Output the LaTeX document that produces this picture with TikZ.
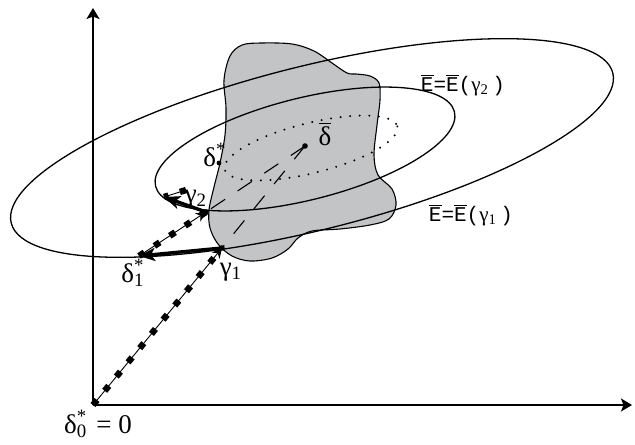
\documentclass[tikz,border=0pt]{standalone}
\usepackage{fontspec}
\setmainfont{Liberation Serif}
\newfontfamily\cour{Liberation Mono}
\usetikzlibrary{arrows.meta,positioning}
\definecolor{blobGray}{HTML}{C3C4C6}
\newcommand{\starsub}[2]{\rlap{\textsuperscript{#1}}\textsubscript{#2}}
\newcommand{\Ebr}{\ensuremath{\overline{\hbox{\cour E}}}}
\tikzset{
  axis/.style={line width=0.6pt, -{Stealth[length=5.5pt,width=6.5pt,inset=1.2pt]}},
  level set/.style={line width=0.65pt},
  blob/.style={draw, line width=0.55pt, fill=blobGray},
  dot ring/.style={line width=1.1pt, dash pattern=on 0pt off 4.8pt, line cap=round},
  ray/.style={line width=0.55pt, dash pattern=on 8.5pt off 7.5pt},
  thin trail/.style={line width=0.45pt},
  dot trail/.style={line width=3.2pt, dash pattern=on 3.2pt off 6pt},
  trail tip/.style={line width=0.45pt, -{Stealth[length=5pt,width=5pt]}},
  step arrow/.style={line width=1.7pt, -{Stealth[length=8pt,width=6.5pt,inset=2pt]}},
  pt/.style={radius=1.4pt},
  lbl/.style={font=\fontsize{13.5}{15}\selectfont, inner sep=1pt},
  elbl/.style={font=\fontsize{10.5}{12}\selectfont, inner sep=1pt}
}
\begin{document}
\begin{tikzpicture}[x=0.5pt, y=-0.5pt]
  \useasboundingbox (0,0) rectangle (635,444);
  % axes
  \coordinate (o) at (93,405);
  \coordinate (ytop) at (93,8);
  \coordinate (xend) at (632,405);
  \draw[axis] (o) -- (ytop);
  \draw[axis] (o) -- (xend);

  % the set
  \draw[blob] plot[smooth cycle, tension=0.55] coordinates {
    (224,80) (230,56) (242,45) (262,43) (292,44) (314,51) (332,63)
    (347,73) (356,74) (370,76) (379,83) (380,100) (377,125) (374,155)
    (378,175) (392,189) (396,205) (389,219) (370,225) (340,229)
    (312,231) (298,238) (288,249) (272,258) (250,261) (232,256)
    (218,244) (210,228) (209,210) (214,187) (220,163) (225,135)
    (226,108)};

  % level sets
  \draw[level set, rotate around={14:(312,148)}]
    (312,148) ellipse [x radius=310, y radius=82];
  \draw[level set, rotate around={14:(305,149)}]
    (305,149) ellipse [x radius=154, y radius=51];
  \draw[dot ring, rotate around={14:(311,148)}]
    (311,148) ellipse [x radius=89, y radius=25];

  \coordinate (g1) at (222,248);
  \coordinate (g2) at (206,212);
  \coordinate (d1) at (139,256);
  \coordinate (d2) at (164,197);
  \coordinate (d2t) at (186,190);
  \coordinate (ds) at (219,163);
  \coordinate (db) at (305,146);

  \draw[ray] (db) -- (g2);
  \draw[ray] (db) -- (g1);

  % iterates
  \draw[trail tip] (o) -- (g1);
  \draw[dot trail] (o) -- (g1);
  \draw[trail tip] (d1) -- (g2);
  \draw[dot trail] (d1) -- (g2);
  \draw[thin trail] (d2t) -- (d2);
  \draw[dot trail] (d2t) -- (d2);
  \draw[step arrow] (g1) -- (d1);
  \draw[step arrow] (g2) -- (d2);

  \fill[pt] (g1) circle;
  \fill[pt] (g2) circle;
  \fill[pt] (db) circle;
  \fill[pt, radius=1.2pt] (ds) circle;

  \node[lbl] (lbar) at (325,134) {\ensuremath{\overline{\hbox{δ}}}};
  \node[lbl, above left=-3pt and -5pt of ds] (lstar) {δ\textsuperscript{*}};
  \node[lbl] (lg2) at (196,199) {γ\textsubscript{2}};
  \node[lbl] (lg1) at (231,272) {γ\textsubscript{1}};
  \node[lbl] (ld1) at (133,273) {δ\starsub{*}{1}};
  \node[lbl] (ld0) at (98,424) {δ\starsub{*}{0}\,\,= 0};
  \node[elbl] (le2) at (463,85) {{\cour\Ebr=\Ebr(}γ\textsubscript{2}\,{\cour)}};
  \node[elbl] (le1) at (471,215) {{\cour\Ebr=\Ebr(}γ\textsubscript{1}\,{\cour)}};
\end{tikzpicture}
\end{document}
